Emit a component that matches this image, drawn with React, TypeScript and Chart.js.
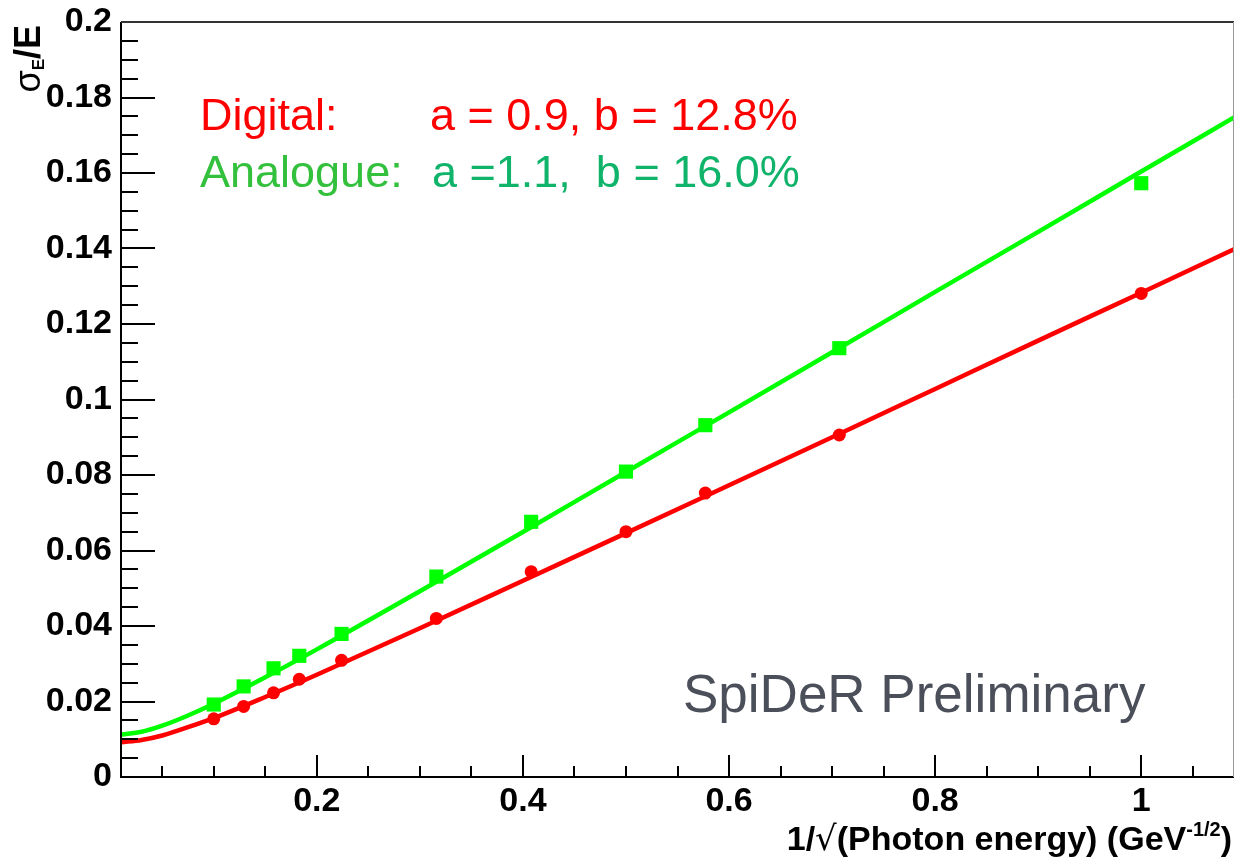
import React, { useEffect, useRef } from "react";
import { Chart, registerables } from "chart.js";

Chart.register(...registerables);

// 1/sqrt(E) values of the measured points
const energyX = [0.1, 0.129, 0.158, 0.183, 0.224, 0.316, 0.408, 0.5, 0.577, 0.707, 1.0];
const digitalY = [0.0154, 0.0187, 0.0223, 0.0259, 0.0309, 0.042, 0.0544, 0.065, 0.0752, 0.0906, 0.1281];
const analogueY = [0.0192, 0.024, 0.0288, 0.0321, 0.0379, 0.0531, 0.0676, 0.0809, 0.0932, 0.1136, 0.1573];

// fit curves
const fitX = [0.01, 0.03, 0.05, 0.075, 0.1, 0.15, 0.2, 0.3, 0.4, 0.5, 0.6, 0.7, 0.8, 0.9, 1.0, 1.09];
const digitalFitY = [0.0092, 0.0098, 0.011, 0.0132, 0.0156, 0.0212, 0.0271, 0.0394, 0.052, 0.0646, 0.0773, 0.09, 0.1028, 0.1156, 0.1283, 0.1398];
const analogueFitY = [0.0112, 0.012, 0.0136, 0.0163, 0.0194, 0.0264, 0.0338, 0.0492, 0.0649, 0.0808, 0.0966, 0.1125, 0.1285, 0.1444, 0.1604, 0.1747];

const xMajorTicks = [0.2, 0.4, 0.6, 0.8, 1.0];
const yMajorTicks = [0, 0.02, 0.04, 0.06, 0.08, 0.1, 0.12, 0.14, 0.16, 0.18, 0.2];
const xMinorStep = 0.05;
const yMinorStep = 0.005;

const X_MIN = 0.01;
const X_MAX = 1.09;
const Y_MIN = 0;
const Y_MAX = 0.2;

const RED = "#ff0000";
const GREEN = "#00ff00";

const FONT = '"Liberation Sans", Arial, Helvetica, sans-serif';

const fmt = (v: number) => String(Number(v.toFixed(3)));

const decorPlugin = {
  id: "decor",
  afterDraw(chart: any) {
    const ctx = chart.ctx as CanvasRenderingContext2D;
    const xs = chart.scales.x;
    const ys = chart.scales.y;
    const { left, right, top, bottom } = chart.chartArea;
    ctx.save();

    // ticks (inside the frame)
    ctx.strokeStyle = "#000";
    ctx.lineWidth = 2;
    ctx.beginPath();
    for (let i = 0; ; i++) {
      const v = Math.round((X_MIN - (X_MIN % xMinorStep) + i * xMinorStep) * 1000) / 1000;
      if (v > X_MAX) break;
      if (v < X_MIN) continue;
      const px = Math.round(xs.getPixelForValue(v));
      const major = xMajorTicks.some((m) => Math.abs(m - v) < 1e-6);
      const len = major ? 22 : 11;
      ctx.moveTo(px, bottom);
      ctx.lineTo(px, bottom - len);
    }
    for (let i = 0; ; i++) {
      const v = Math.round((Y_MIN + i * yMinorStep) * 10000) / 10000;
      if (v > Y_MAX + 1e-9) break;
      const py = Math.round(ys.getPixelForValue(v));
      const major = yMajorTicks.some((m) => Math.abs(m - v) < 1e-6);
      const len = major ? 34 : 17;
      ctx.moveTo(left, py);
      ctx.lineTo(left + len, py);
    }
    ctx.stroke();

    // frame
    ctx.strokeStyle = "#000";
    ctx.lineWidth = 2;
    ctx.beginPath();
    ctx.moveTo(left, top);
    ctx.lineTo(left, bottom);
    ctx.lineTo(right, bottom);
    ctx.stroke();
    ctx.strokeStyle = "#333";
    ctx.beginPath();
    ctx.moveTo(left, top);
    ctx.lineTo(right, top);
    ctx.stroke();
    ctx.strokeStyle = "#999";
    ctx.lineWidth = 1;
    ctx.beginPath();
    ctx.moveTo(right - 0.5, top);
    ctx.lineTo(right - 0.5, bottom);
    ctx.stroke();

    // annotation texts
    ctx.textBaseline = "alphabetic";
    ctx.textAlign = "left";
    ctx.font = `45px ${FONT}`;
    ctx.fillStyle = RED;
    ctx.fillText("Digital:", 200, 130);
    ctx.fillText("a = 0.9, b = 12.8%", 430, 130);
    ctx.fillStyle = "#33c03c";
    ctx.fillText("Analogue:", 200, 187);
    ctx.fillStyle = "#10b36a";
    ctx.fillText("a =1.1,  b = 16.0%", 432, 187);

    ctx.font = `53px ${FONT}`;
    ctx.fillStyle = "#4a4f5a";
    ctx.fillText("SpiDeR Preliminary", 683, 712);

    // x-axis title
    ctx.fillStyle = "#000";
    const segs: { t: string; f: string; dy: number }[] = [
      { t: "1/", f: `bold 34px ${FONT}`, dy: 0 },
      { t: "\u221A", f: `34px "DejaVu Sans", ${FONT}`, dy: 0 },
      { t: "(Photon energy) (GeV", f: `bold 34px ${FONT}`, dy: 0 },
      { t: "-1/2", f: `bold 20px ${FONT}`, dy: -14 },
      { t: ")", f: `bold 34px ${FONT}`, dy: 0 },
    ];
    let total = 0;
    for (const s of segs) {
      ctx.font = s.f;
      total += ctx.measureText(s.t).width;
    }
    let cx = 1232 - total;
    for (const s of segs) {
      ctx.font = s.f;
      ctx.fillText(s.t, cx, 850 + s.dy);
      cx += ctx.measureText(s.t).width;
    }

    // y-axis title (rotated)
    const ysegs: { t: string; f: string; dy: number }[] = [
      { t: "\u03C3", f: `36px ${FONT}`, dy: 0 },
      { t: "E", f: `bold 17px ${FONT}`, dy: 4 },
      { t: "/E", f: `bold 36px ${FONT}`, dy: 0 },
    ];
    let ytotal = 0;
    for (const s of ysegs) {
      ctx.font = s.f;
      ytotal += ctx.measureText(s.t).width;
    }
    ctx.save();
    ctx.translate(40, 25 + ytotal);
    ctx.rotate(-Math.PI / 2);
    let tx = 0;
    for (const s of ysegs) {
      ctx.font = s.f;
      ctx.fillText(s.t, tx, s.dy);
      tx += ctx.measureText(s.t).width;
    }
    ctx.restore();

    ctx.restore();
  },
};

export default function App() {
  const canvasRef = useRef<HTMLCanvasElement | null>(null);

  useEffect(() => {
    const canvas = canvasRef.current;
    if (!canvas) return;
    const tickFont = { family: FONT, size: 34, weight: "bold" as const, lineHeight: 1.2 };
    const chart = new Chart(canvas, {
      type: "scatter",
      data: {
        datasets: [
          {
            label: "Digital fit",
            data: fitX.map((x, i) => ({ x, y: digitalFitY[i] })),
            showLine: true,
            borderColor: RED,
            borderWidth: 4.5,
            pointRadius: 0,
            cubicInterpolationMode: "monotone",
            clip: 0,
            order: 1,
          },
          {
            label: "Analogue fit",
            data: fitX.map((x, i) => ({ x, y: analogueFitY[i] })),
            showLine: true,
            borderColor: GREEN,
            borderWidth: 4.5,
            pointRadius: 0,
            cubicInterpolationMode: "monotone",
            clip: 0,
            order: 1,
          },
          {
            label: "Digital",
            data: energyX.map((x, i) => ({ x, y: digitalY[i] })),
            showLine: false,
            pointStyle: "circle",
            pointRadius: 6.5,
            backgroundColor: RED,
            borderColor: RED,
            borderWidth: 0,
            order: 2,
          },
          {
            label: "Analogue",
            data: energyX.map((x, i) => ({ x, y: analogueY[i] })),
            showLine: false,
            pointStyle: "rect",
            pointRadius: 10,
            backgroundColor: GREEN,
            borderColor: GREEN,
            borderWidth: 0,
            order: 2,
          },
        ] as any,
      },
      options: {
        animation: false,
        responsive: false,
        maintainAspectRatio: false,
        layout: { autoPadding: false, padding: { top: 22, right: 1, left: 0, bottom: 0 } },
        plugins: {
          legend: { display: false },
          tooltip: { enabled: false },
        },
        scales: {
          x: {
            type: "linear",
            min: X_MIN,
            max: X_MAX,
            grid: { display: false, drawTicks: false },
            border: { display: false },
            ticks: {
              color: "#000",
              font: tickFont,
              padding: 4,
              maxRotation: 0,
              autoSkip: false,
              callback: (v: any) => fmt(Number(v)),
            },
            afterBuildTicks: (s: any) => {
              s.ticks = xMajorTicks.map((v) => ({ value: v }));
            },
            afterFit: (s: any) => {
              s.height = 87;
              s.paddingLeft = 0;
              s.paddingRight = 0;
              s.paddingTop = 0;
              s.paddingBottom = 0;
            },
          },
          y: {
            type: "linear",
            min: Y_MIN,
            max: Y_MAX,
            grid: { display: false, drawTicks: false },
            border: { display: false },
            ticks: {
              color: "#000",
              font: tickFont,
              padding: 9,
              autoSkip: false,
              callback: (v: any) => fmt(Number(v)),
            },
            afterBuildTicks: (s: any) => {
              s.ticks = yMajorTicks.map((v) => ({ value: v }));
            },
            afterFit: (s: any) => {
              s.width = 121;
              s.paddingLeft = 0;
              s.paddingRight = 0;
              s.paddingTop = 0;
              s.paddingBottom = 0;
            },
          },
        },
      } as any,
      plugins: [decorPlugin],
    });
    return () => chart.destroy();
  }, []);

  return (
    <div style={{ position: "fixed", left: 0, top: 0, width: 1235, height: 864, background: "#fff" }}>
      <canvas ref={canvasRef} width={1235} height={864} style={{ display: "block" }} />
    </div>
  );
}
